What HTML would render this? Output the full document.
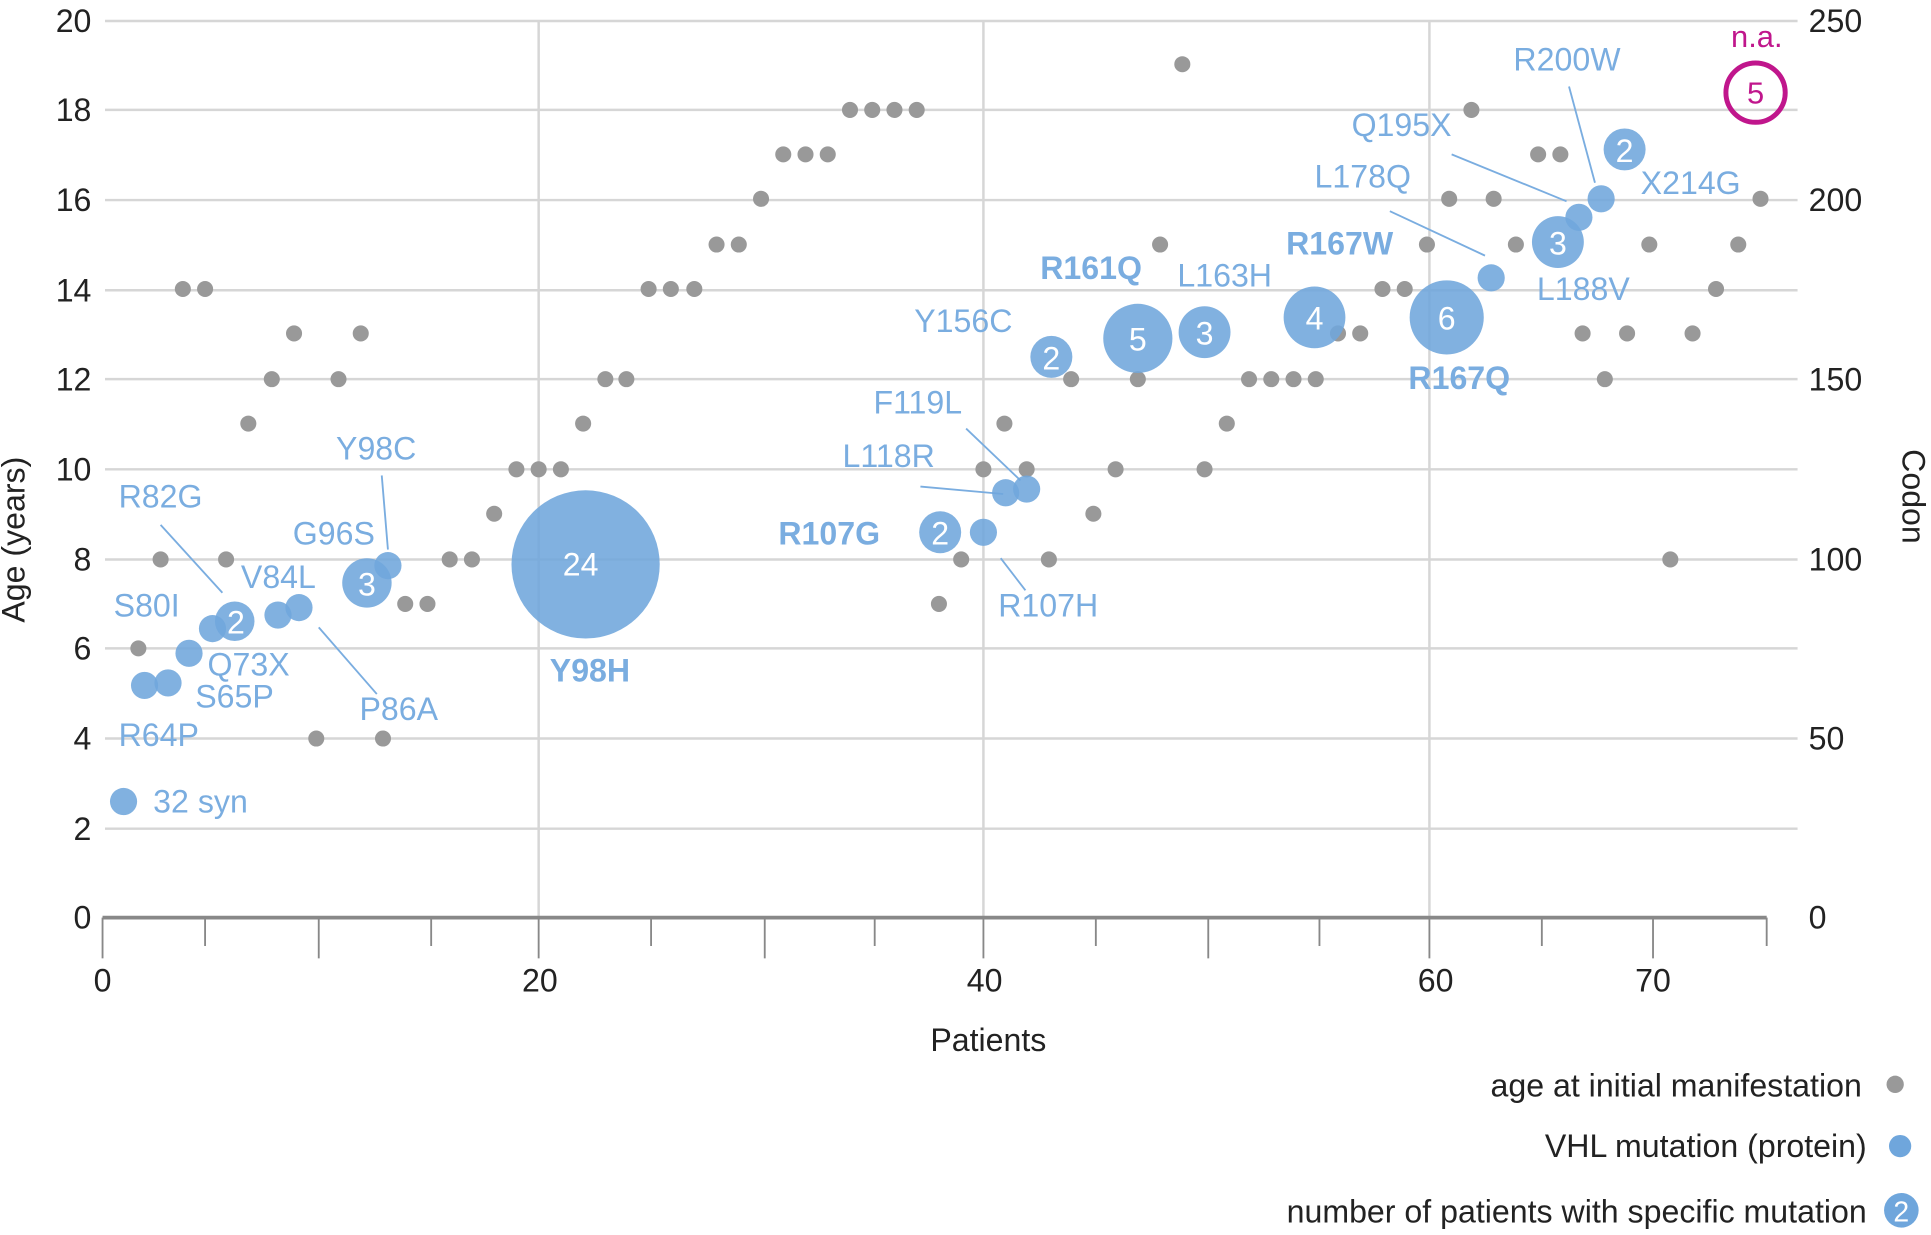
<!DOCTYPE html>
<html><head><style>html,body{margin:0;padding:0;background:#fff}svg{display:block}text{font-family:"Liberation Sans",sans-serif}</style></head>
<body>
<svg width="1931" height="1235" viewBox="0 0 1563 1000" preserveAspectRatio="none" xmlns="http://www.w3.org/2000/svg">
<g stroke="#d6d6d6" stroke-width="2">
<line x1="85" y1="17" x2="1455" y2="17"/><line x1="85" y1="89" x2="1455" y2="89"/><line x1="85" y1="162" x2="1455" y2="162"/><line x1="85" y1="235" x2="1455" y2="235"/><line x1="85" y1="307" x2="1455" y2="307"/><line x1="85" y1="380" x2="1455" y2="380"/><line x1="85" y1="453" x2="1455" y2="453"/><line x1="85" y1="525" x2="1455" y2="525"/><line x1="85" y1="598" x2="1455" y2="598"/><line x1="85" y1="671" x2="1455" y2="671"/>
<line x1="436" y1="17" x2="436" y2="743"/><line x1="796" y1="17" x2="796" y2="743"/><line x1="1157" y1="17" x2="1157" y2="743"/>
</g>
<line x1="83" y1="743" x2="1430" y2="743" stroke="#888" stroke-width="3"/>
<g stroke="#888" stroke-width="1.5">
<line x1="83" y1="743" x2="83" y2="776"/><line x1="166" y1="743" x2="166" y2="766"/><line x1="258" y1="743" x2="258" y2="776"/><line x1="349" y1="743" x2="349" y2="766"/><line x1="436" y1="743" x2="436" y2="776"/><line x1="527" y1="743" x2="527" y2="766"/><line x1="619" y1="743" x2="619" y2="776"/><line x1="708" y1="743" x2="708" y2="766"/><line x1="796" y1="743" x2="796" y2="776"/><line x1="887" y1="743" x2="887" y2="766"/><line x1="978" y1="743" x2="978" y2="776"/><line x1="1068" y1="743" x2="1068" y2="766"/><line x1="1157" y1="743" x2="1157" y2="776"/><line x1="1248" y1="743" x2="1248" y2="766"/><line x1="1338" y1="743" x2="1338" y2="776"/><line x1="1430" y1="743" x2="1430" y2="766"/>
</g>
<g font-size="26" fill="#222" text-anchor="end">
<text x="74" y="26">20</text><text x="74" y="98">18</text><text x="74" y="171">16</text><text x="74" y="244">14</text><text x="74" y="316">12</text><text x="74" y="389">10</text><text x="74" y="462">8</text><text x="74" y="534">6</text><text x="74" y="607">4</text><text x="74" y="680">2</text><text x="74" y="752">0</text>
</g>
<g font-size="26" fill="#222">
<text x="1464" y="26">250</text><text x="1464" y="171">200</text><text x="1464" y="316">150</text><text x="1464" y="462">100</text><text x="1464" y="607">50</text><text x="1464" y="752">0</text>
</g>
<g font-size="26" fill="#222" text-anchor="middle">
<text x="83" y="803">0</text><text x="437" y="803">20</text><text x="797" y="803">40</text><text x="1162" y="803">60</text><text x="1338" y="803">70</text>
<text x="800" y="851">Patients</text>
<text transform="translate(20,437) rotate(-90)">Age (years)</text>
<text transform="translate(1540,402) rotate(90)">Codon</text>
</g>
<g fill="#999">
<circle cx="112" cy="525" r="6.5"/><circle cx="130" cy="453" r="6.5"/><circle cx="148" cy="234" r="6.5"/><circle cx="166" cy="234" r="6.5"/><circle cx="183" cy="453" r="6.5"/><circle cx="201" cy="343" r="6.5"/><circle cx="220" cy="307" r="6.5"/><circle cx="238" cy="270" r="6.5"/><circle cx="256" cy="598" r="6.5"/><circle cx="274" cy="307" r="6.5"/><circle cx="292" cy="270" r="6.5"/><circle cx="310" cy="598" r="6.5"/><circle cx="328" cy="489" r="6.5"/><circle cx="346" cy="489" r="6.5"/><circle cx="364" cy="453" r="6.5"/><circle cx="382" cy="453" r="6.5"/><circle cx="400" cy="416" r="6.5"/><circle cx="418" cy="380" r="6.5"/><circle cx="436" cy="380" r="6.5"/><circle cx="454" cy="380" r="6.5"/><circle cx="472" cy="343" r="6.5"/><circle cx="490" cy="307" r="6.5"/><circle cx="507" cy="307" r="6.5"/><circle cx="525" cy="234" r="6.5"/><circle cx="543" cy="234" r="6.5"/><circle cx="562" cy="234" r="6.5"/><circle cx="580" cy="198" r="6.5"/><circle cx="598" cy="198" r="6.5"/><circle cx="616" cy="161" r="6.5"/><circle cx="634" cy="125" r="6.5"/><circle cx="652" cy="125" r="6.5"/><circle cx="670" cy="125" r="6.5"/><circle cx="688" cy="89" r="6.5"/><circle cx="706" cy="89" r="6.5"/><circle cx="724" cy="89" r="6.5"/><circle cx="742" cy="89" r="6.5"/><circle cx="760" cy="489" r="6.5"/><circle cx="778" cy="453" r="6.5"/><circle cx="796" cy="380" r="6.5"/><circle cx="813" cy="343" r="6.5"/><circle cx="831" cy="380" r="6.5"/><circle cx="849" cy="453" r="6.5"/><circle cx="867" cy="307" r="6.5"/><circle cx="885" cy="416" r="6.5"/><circle cx="903" cy="380" r="6.5"/><circle cx="921" cy="307" r="6.5"/><circle cx="939" cy="198" r="6.5"/><circle cx="957" cy="52" r="6.5"/><circle cx="975" cy="380" r="6.5"/><circle cx="993" cy="343" r="6.5"/><circle cx="1011" cy="307" r="6.5"/><circle cx="1029" cy="307" r="6.5"/><circle cx="1047" cy="307" r="6.5"/><circle cx="1065" cy="307" r="6.5"/><circle cx="1083" cy="270" r="6.5"/><circle cx="1101" cy="270" r="6.5"/><circle cx="1119" cy="234" r="6.5"/><circle cx="1137" cy="234" r="6.5"/><circle cx="1155" cy="198" r="6.5"/><circle cx="1173" cy="161" r="6.5"/><circle cx="1191" cy="89" r="6.5"/><circle cx="1209" cy="161" r="6.5"/><circle cx="1227" cy="198" r="6.5"/><circle cx="1245" cy="125" r="6.5"/><circle cx="1263" cy="125" r="6.5"/><circle cx="1281" cy="270" r="6.5"/><circle cx="1299" cy="307" r="6.5"/><circle cx="1317" cy="270" r="6.5"/><circle cx="1335" cy="198" r="6.5"/><circle cx="1352" cy="453" r="6.5"/><circle cx="1370" cy="270" r="6.5"/><circle cx="1389" cy="234" r="6.5"/><circle cx="1407" cy="198" r="6.5"/><circle cx="1425" cy="161" r="6.5"/>
</g>
<g stroke="#7aade0" stroke-width="1.5">
<line x1="130" y1="425" x2="180" y2="480"/><line x1="258" y1="508" x2="305" y2="562"/><line x1="309" y1="385" x2="314" y2="445"/><line x1="810" y1="452" x2="830" y2="478"/><line x1="745" y1="394" x2="812" y2="400"/><line x1="782" y1="347" x2="826" y2="389"/><line x1="1125" y1="171" x2="1202" y2="207"/><line x1="1175" y1="125" x2="1268" y2="163"/><line x1="1270" y1="70" x2="1291" y2="148"/>
</g>
<g fill="#6fa6dc" fill-opacity="0.88">
<circle cx="100" cy="649" r="11"/><circle cx="117" cy="555" r="11"/><circle cx="136" cy="553" r="11"/><circle cx="153" cy="529" r="11"/><circle cx="172" cy="509" r="11"/><circle cx="190" cy="503" r="16"/><circle cx="225" cy="498" r="11"/><circle cx="242" cy="492" r="11"/><circle cx="297" cy="472" r="20"/><circle cx="314" cy="458" r="11"/><circle cx="474" cy="457" r="60"/><circle cx="761" cy="431" r="17"/><circle cx="796" cy="431" r="11"/><circle cx="814" cy="399" r="11"/><circle cx="831" cy="396" r="11"/><circle cx="851" cy="289" r="17"/><circle cx="921" cy="274" r="28"/><circle cx="975" cy="269" r="21"/><circle cx="1064" cy="257" r="25"/><circle cx="1171" cy="257" r="30"/><circle cx="1207" cy="225" r="11"/><circle cx="1261" cy="196" r="21"/><circle cx="1278" cy="176" r="11"/><circle cx="1296" cy="161" r="11"/><circle cx="1315" cy="121" r="17"/>
</g>
<g fill="#fff" font-size="26" text-anchor="middle">
<text x="191" y="513">2</text><text x="297" y="482">3</text><text x="470" y="466">24</text><text x="761" y="441">2</text><text x="851" y="299">2</text><text x="921" y="284">5</text><text x="975" y="279">3</text><text x="1064" y="267">4</text><text x="1171" y="267">6</text><text x="1261" y="206">3</text><text x="1315" y="131">2</text>
</g>
<circle cx="1421" cy="75" r="24" fill="none" stroke="#c0168c" stroke-width="4"/>
<g fill="#c0168c" font-size="25" text-anchor="middle"><text x="1421" y="84">5</text><text x="1422" y="38">n.a.</text></g>
<g fill="#7aade0" font-size="26">
<text x="124" y="658">32 syn</text><text x="96" y="604">R64P</text><text x="158" y="573">S65P</text><text x="168" y="547">Q73X</text><text x="92" y="499">S80I</text><text x="96" y="411">R82G</text><text x="195" y="476">V84L</text><text x="237" y="441">G96S</text><text x="272" y="372">Y98C</text><text x="291" y="583">P86A</text><text x="808" y="499">R107H</text><text x="682" y="378">L118R</text><text x="707" y="335">F119L</text><text x="740" y="269">Y156C</text><text x="953" y="232">L163H</text><text x="1064" y="152">L178Q</text><text x="1094" y="110">Q195X</text><text x="1225" y="57">R200W</text><text x="1328" y="157">X214G</text><text x="1244" y="243">L188V</text>
<g font-weight="bold"><text x="445" y="552">Y98H</text><text x="630" y="441">R107G</text><text x="842" y="226">R161Q</text><text x="1041" y="206">R167W</text><text x="1140" y="315">R167Q</text></g>
</g>
<g font-size="26" fill="#222" text-anchor="end">
<text x="1507" y="888">age at initial manifestation</text><text x="1511" y="937">VHL mutation (protein)</text><text x="1511" y="990">number of patients with specific mutation</text>
</g>
<circle cx="1534" cy="878" r="7" fill="#999"/>
<circle cx="1538" cy="928" r="9" fill="#6fa6dc"/>
<circle cx="1539" cy="980" r="14" fill="#6fa6dc"/>
<text x="1539" y="989" font-size="23" fill="#fff" text-anchor="middle">2</text>
</svg>
</body></html>
